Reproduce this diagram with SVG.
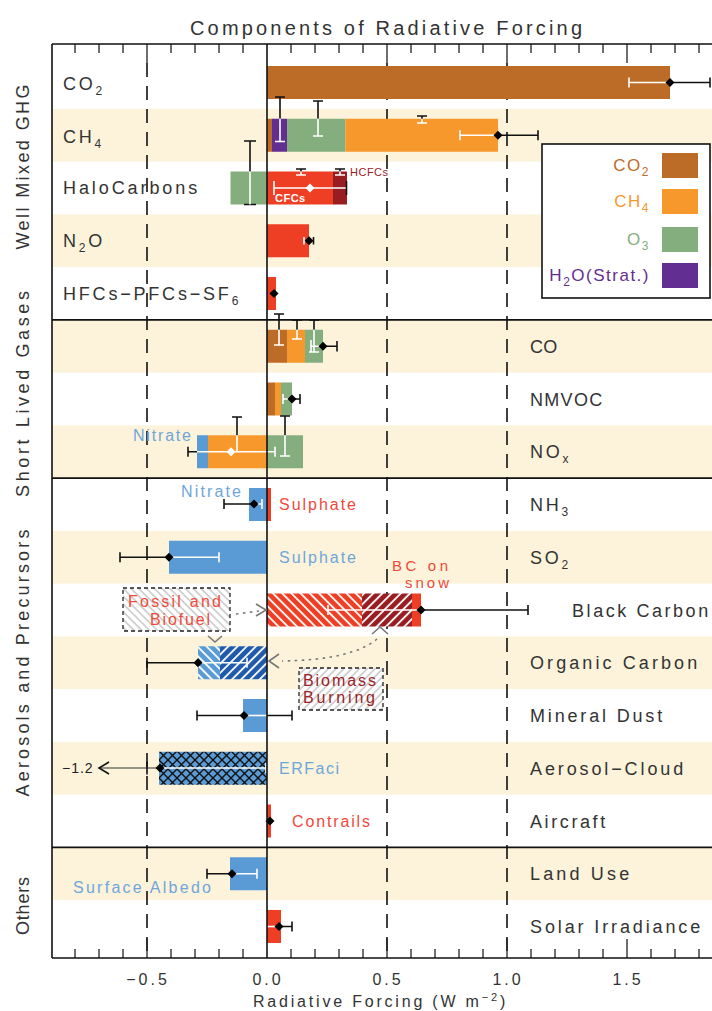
<svg xmlns="http://www.w3.org/2000/svg" width="712" height="1011" viewBox="0 0 712 1011">
<defs>
<style>
text{font-family:"Liberation Sans","DejaVu Sans",Arial,sans-serif;fill:#333}
.title{font-size:20px}
.lab{font-size:18px;letter-spacing:2.8px}
.sec{font-size:18px;text-anchor:middle}
.clab{font-size:16px;letter-spacing:2px}
.leg{font-size:17px;letter-spacing:1.5px;text-anchor:end}
.tick{font-size:16px;letter-spacing:3px;text-anchor:middle}
.band{fill:#FCF3DA}
.frame{stroke:#111;stroke-width:1.6;fill:none}
.tk{stroke:#222;stroke-width:1.3;fill:none}
.dash{stroke:#111;stroke-width:1.6;fill:none;stroke-dasharray:14,9}
.blk{stroke:#111;stroke-width:1.6;fill:none}
.wht{stroke:#fff;stroke-width:1.6;fill:none}
.arr{stroke:#777;stroke-width:1.6;fill:none}
.dot{stroke:#777;stroke-width:1.6;fill:none;stroke-dasharray:2.5,4.5}
.brown{fill:#BD6C28}
.orange{fill:#F7982C}
.green{fill:#85AE7F}
.purple{fill:#622E90}
.red{fill:#EE3F24}
.dred{fill:#981D22}
.blue{fill:#5B9BD5}
.tblue{fill:#6FA6DA}
.tred{fill:#F0493A}
.tdred{fill:#9B2226}
.box{stroke:#222;stroke-width:1.3;stroke-dasharray:4,3}
</style>
<path id="dm" d="M0,-4.5 L4.5,0 L0,4.5 L-4.5,0Z" fill="#000"/>
<path id="wdm" d="M0,-4.5 L4.5,0 L0,4.5 L-4.5,0Z" fill="#fff"/>
<pattern id="hRed" patternUnits="userSpaceOnUse" width="6.5" height="10" patternTransform="rotate(-45)">
<rect width="6.5" height="10" fill="#EE3F24"/><line x1="1" y1="0" x2="1" y2="10" stroke="#fff" stroke-width="1.8"/>
</pattern>
<pattern id="hDRed" patternUnits="userSpaceOnUse" width="6.5" height="10" patternTransform="rotate(45)">
<rect width="6.5" height="10" fill="#981D22"/><line x1="1" y1="0" x2="1" y2="10" stroke="#fff" stroke-width="1.8"/>
</pattern>
<pattern id="hLBlue" patternUnits="userSpaceOnUse" width="6.5" height="10" patternTransform="rotate(-45)">
<rect width="6.5" height="10" fill="#5B9BD5"/><line x1="1" y1="0" x2="1" y2="10" stroke="#fff" stroke-width="1.8"/>
</pattern>
<pattern id="hDBlue" patternUnits="userSpaceOnUse" width="6.5" height="10" patternTransform="rotate(45)">
<rect width="6.5" height="10" fill="#1F5AAB"/><line x1="1" y1="0" x2="1" y2="10" stroke="#fff" stroke-width="1.8"/>
</pattern>
<pattern id="gBack" patternUnits="userSpaceOnUse" width="5.5" height="10" patternTransform="rotate(-45)">
<rect width="5.5" height="10" fill="#fff"/><line x1="1" y1="0" x2="1" y2="10" stroke="#aaa" stroke-width="1"/>
</pattern>
<pattern id="gFwd" patternUnits="userSpaceOnUse" width="5.5" height="10" patternTransform="rotate(45)">
<rect width="5.5" height="10" fill="#fff"/><line x1="1" y1="0" x2="1" y2="10" stroke="#aaa" stroke-width="1"/>
</pattern>
<pattern id="xAC" patternUnits="userSpaceOnUse" width="9" height="9" x="159" y="751">
<rect width="9" height="9" fill="#5B9BD5"/><path d="M0,0 L9,9 M9,0 L0,9" stroke="#111" stroke-width="1.4"/>
</pattern>
</defs>

<rect width="712" height="1011" fill="#fff"/>

<g id="bands">
<rect class="band" x="52" y="108.9" width="660" height="52.75"/>
<rect class="band" x="52" y="214.4" width="660" height="52.75"/>
<rect class="band" x="52" y="319.9" width="660" height="52.75"/>
<rect class="band" x="52" y="425.4" width="660" height="52.75"/>
<rect class="band" x="52" y="530.9" width="660" height="52.75"/>
<rect class="band" x="52" y="636.4" width="660" height="52.75"/>
<rect class="band" x="52" y="741.9" width="660" height="52.75"/>
<rect class="band" x="52" y="847.4" width="660" height="52.75"/>
</g>

<text class="title" x="190" y="35" textLength="392">Components of Radiative Forcing</text>

<g id="axes">
<path class="dash" d="M147,63 V958 M387,63 V958 M507,63 V958"/>
<path class="tk" d="M75,44v9 M99,44v9 M123,44v9 M171,44v9 M195,44v9 M219,44v9 M243,44v9 M291,44v9 M315,44v9 M339,44v9 M363,44v9 M411,44v9 M435,44v9 M459,44v9 M483,44v9 M531,44v9 M555,44v9 M579,44v9 M603,44v9 M651,44v9 M675,44v9 M699,44v9 M147,44v19 M387,44v19 M507,44v19 M627,44v19"/>
<path class="tk" d="M75,958v-9 M99,958v-9 M123,958v-9 M171,958v-9 M195,958v-9 M219,958v-9 M243,958v-9 M291,958v-9 M315,958v-9 M339,958v-9 M363,958v-9 M411,958v-9 M435,958v-9 M459,958v-9 M483,958v-9 M531,958v-9 M555,958v-9 M579,958v-9 M603,958v-9 M651,958v-9 M675,958v-9 M699,958v-9 M147,958v-19 M387,958v-19 M507,958v-19 M627,958v-19"/>
<path class="frame" d="M52,44 H712 M52,958 H712 M52,44 V958 M52,319.9 H712 M52,478.1 H712 M52,847.4 H712"/>
<text class="tick" x="148" y="985">−0.5</text>
<text class="tick" x="268" y="985">0.0</text>
<text class="tick" x="388" y="985">0.5</text>
<text class="tick" x="508" y="985">1.0</text>
<text class="tick" x="628" y="985">1.5</text>
<text x="253" y="1007" style="font-size:16px;letter-spacing:2.8px">Radiative Forcing (W m<tspan dy="-6" style="font-size:11px">−2</tspan><tspan dy="6">)</tspan></text>
</g>

<g id="section-labels">
<text class="sec" transform="translate(29,167) rotate(-90)" textLength="165">Well Mixed GHG</text>
<text class="sec" transform="translate(29,394) rotate(-90)" textLength="206">Short Lived Gases</text>
<text class="sec" transform="translate(29,663) rotate(-90)" textLength="267">Aerosols and Precursors</text>
<text class="sec" transform="translate(29,906) rotate(-90)" textLength="58">Others</text>
</g>

<g id="row-co2">
<text class="lab" x="63" y="90">CO<tspan dy="5" style="font-size:12px">2</tspan></text>
<rect class="brown" x="267" y="66" width="403" height="33"/>
<path class="wht" d="M629,82.5 H670 M629,77.5 V87.5"/>
<path class="blk" d="M670,82.5 H710 M710,77.5 V87.5"/>
<use href="#dm" x="670" y="82.5"/>
</g>

<g id="row-ch4">
<text class="lab" x="63" y="143">CH<tspan dy="5" style="font-size:12px">4</tspan></text>
<rect class="brown" x="267" y="118.75" width="5" height="33"/>
<rect class="purple" x="272" y="118.75" width="15" height="33"/>
<rect class="green" x="287" y="118.75" width="58.5" height="33"/>
<rect class="orange" x="345.5" y="118.75" width="152.5" height="33"/>
<path class="blk" d="M280,97 V118.75 M275,97 H285 M318,101 V118.75 M313,101 H323 M417,116 H427 M422,116 V118.75"/>
<path class="wht" d="M280,118.75 V141.5 M275,141.5 H285 M318,118.75 V136 M313,136 H323 M422,118.75 V123 M417,123 H427"/>
<path class="wht" d="M460,135.25 H498 M460,130.25 V140.25"/>
<path class="blk" d="M498,135.25 H538 M538,130.25 V140.25"/>
<use href="#dm" x="498" y="135.25"/>
</g>

<g id="row-halocarbons">
<text class="lab" x="63" y="194" textLength="137">HaloCarbons</text>
<rect class="green" x="230.5" y="171.5" width="36.5" height="33"/>
<rect class="red" x="267" y="171.5" width="66" height="33"/>
<rect class="dred" x="333" y="171.5" width="14" height="33"/>
<path class="blk" d="M250,141 V171.5 M244,141 H256 M244,204.5 H256"/>
<path class="wht" d="M250,171.5 V204.5"/>
<path class="blk" d="M296,169 H306 M301,169 V171.5 M335,169 H345 M340,169 V171.5"/>
<path class="wht" d="M301,171.5 V175 M296,175 H306 M340,171.5 V175 M335,175 H345"/>
<path class="wht" d="M274,188 H346.5 M274,181 V195"/>
<path class="blk" d="M346.5,181 V195"/>
<use href="#wdm" x="310" y="188"/>
<text x="275" y="202" style="font-size:11px;font-weight:bold;fill:#fff;letter-spacing:0.5px">CFCs</text>
<text x="350" y="176" style="font-size:11px;fill:#9B2226;letter-spacing:0.5px">HCFCs</text>
</g>

<g id="row-n2o">
<text class="lab" x="63" y="247">N<tspan dy="5" style="font-size:12px">2</tspan><tspan dy="-5">O</tspan></text>
<rect class="red" x="267" y="224.25" width="42" height="33"/>
<path class="wht" d="M304,240.75 H309 M304,237 V244.5"/>
<path class="blk" d="M309,240.75 H313.5 M313.5,237 V244.5"/>
<use href="#dm" x="309" y="240.75"/>
</g>

<g id="row-hfcs">
<text class="lab" x="63" y="300">HFCs−PFCs−SF<tspan dy="5" style="font-size:12px">6</tspan></text>
<rect class="red" x="267" y="277" width="9" height="33"/>
<path class="blk" d="M271,293.5 H277"/>
<use href="#dm" x="274" y="293.5"/>
</g>

<g id="row-co">
<text class="lab" x="530" y="352.5" textLength="30">CO</text>
<rect class="brown" x="267" y="329.75" width="20" height="33"/>
<rect class="orange" x="287" y="329.75" width="18" height="33"/>
<rect class="green" x="305" y="329.75" width="18" height="33"/>
<path class="blk" d="M279,314 V329.75 M274,314 H284 M297,320 V329.75 M292,320 H302 M314,320 V329.75 M309,320 H319"/>
<path class="wht" d="M279,329.75 V345 M274,345 H284 M297,329.75 V339 M292,339 H302 M314,329.75 V352 M309,352 H319 M311,346.25 H323 M311,340 V352"/>
<path class="blk" d="M323,346.25 H337 M337,341 V351.5"/>
<use href="#dm" x="323" y="346.25"/>
</g>

<g id="row-nmvoc">
<text class="lab" x="530" y="405.5" textLength="75">NMVOC</text>
<rect class="brown" x="267" y="382.5" width="8" height="33"/>
<rect class="orange" x="275" y="382.5" width="6" height="33"/>
<rect class="green" x="281" y="382.5" width="11" height="33"/>
<path class="wht" d="M283,399 H292 M283,394 V404"/>
<path class="blk" d="M292,399 H300 M300,394 V404"/>
<use href="#dm" x="292" y="399"/>
</g>

<g id="row-nox">
<text class="lab" x="530" y="458">NO<tspan dy="5" style="font-size:12px">x</tspan></text>
<rect class="blue" x="197" y="435.25" width="11" height="33"/>
<rect class="orange" x="208" y="435.25" width="59" height="33"/>
<rect class="green" x="267" y="435.25" width="36" height="33"/>
<path class="blk" d="M237,417 V435.25 M232,417 H242 M285,416 V435.25 M280,416 H290"/>
<path class="wht" d="M237,435.25 V451.75 M285,435.25 V456 M280,456 H290"/>
<path class="blk" d="M188,451.75 H197 M188,446.75 V456.75"/>
<path class="wht" d="M197,451.75 H275 M275,446.75 V456.75"/>
<use href="#wdm" x="231" y="451.75"/>
<text class="clab tblue" x="133" y="441" textLength="60">Nitrate</text>
</g>

<g id="row-nh3">
<text class="lab" x="530" y="511">NH<tspan dy="5" style="font-size:12px">3</tspan></text>
<rect class="blue" x="249" y="488" width="18" height="33"/>
<rect class="red" x="267" y="488" width="4" height="33"/>
<path class="blk" d="M224,504 H254 M224,499 V509"/>
<path class="wht" d="M254,504 H262 M262,499 V509"/>
<use href="#dm" x="254" y="504"/>
<text class="clab tblue" x="181" y="497" textLength="62">Nitrate</text>
<text class="clab tred" x="279" y="510" textLength="79">Sulphate</text>
</g>

<g id="row-so2">
<text class="lab" x="530" y="564">SO<tspan dy="5" style="font-size:12px">2</tspan></text>
<rect class="blue" x="169" y="540.75" width="98" height="33"/>
<path class="blk" d="M120,557.25 H169 M120,552.25 V562.25"/>
<path class="wht" d="M169,557.25 H219 M219,552.25 V562.25"/>
<use href="#dm" x="169" y="557.25"/>
<text class="clab tblue" x="279" y="563" textLength="79">Sulphate</text>
</g>

<g id="row-black-carbon">
<text class="lab" x="572" y="616.5" textLength="139">Black Carbon</text>
<rect x="267" y="593.5" width="95" height="33" fill="url(#hRed)"/>
<rect x="362" y="593.5" width="50" height="33" fill="url(#hDRed)"/>
<rect class="red" x="412" y="593.5" width="9" height="33"/>
<path class="wht" d="M328,610 H421 M328,605 V615"/>
<path class="blk" d="M421,610 H528 M528,605 V615"/>
<use href="#dm" x="421" y="610"/>
<text class="tred" x="392" y="570.5" textLength="56" style="font-size:15px">BC on</text>
<text class="tred" x="405" y="588" textLength="44" style="font-size:15px">snow</text>
</g>

<g id="fossil-box">
<rect class="box" x="123" y="588" width="107" height="43" fill="url(#gBack)"/>
<text class="clab tred" x="128" y="607" textLength="95">Fossil and</text>
<text class="clab tred" x="150" y="625" textLength="62">Biofuel</text>
</g>

<g id="biomass-box">
<rect class="box" x="299" y="668" width="84" height="42" fill="url(#gFwd)"/>
<text class="clab tdred" x="303" y="686" textLength="75">Biomass</text>
<text class="clab tdred" x="303" y="703" textLength="74">Burning</text>
</g>

<g id="row-organic-carbon">
<text class="lab" x="530" y="669" textLength="170">Organic Carbon</text>
<rect x="198" y="646.25" width="22" height="33" fill="url(#hLBlue)"/>
<rect x="220" y="646.25" width="47" height="33" fill="url(#hDBlue)"/>
<path class="blk" d="M147,662.75 H198 M147,657.75 V667.75"/>
<path class="wht" d="M198,662.75 H247 M247,657.75 V667.75"/>
<use href="#dm" x="198" y="662.75"/>
</g>

<g id="row-mineral-dust">
<text class="lab" x="530" y="722" textLength="135">Mineral Dust</text>
<rect class="blue" x="243" y="699" width="24" height="33"/>
<path class="blk" d="M197,715.5 H243 M197,710.5 V720.5 M267,715.5 H292 M292,710.5 V720.5"/>
<path class="wht" d="M243,715.5 H267"/>
<use href="#dm" x="244" y="715.5"/>
</g>

<g id="row-aerosol-cloud">
<text class="lab" x="530" y="774.5" textLength="156">Aerosol−Cloud</text>
<rect x="159" y="751.75" width="108" height="33" fill="url(#xAC)"/>
<path d="M100,768 H160" stroke="#333" stroke-width="1.2" fill="none"/>
<path class="blk" d="M109,762 L99,768 L109,774 M147,761.5 V774.5"/>
<path class="wht" d="M160,768 H266 M266,763 V773"/>
<use href="#dm" x="160" y="768"/>
<text x="62" y="773" style="font-size:14px;letter-spacing:1px;fill:#222">−1.2</text>
<text class="clab tblue" x="279" y="774" textLength="62">ERFaci</text>
</g>

<g id="row-aircraft">
<text class="lab" x="530" y="827.5" textLength="78">Aircraft</text>
<rect class="red" x="267" y="804.5" width="4" height="33"/>
<use href="#dm" x="270" y="821"/>
<text class="clab tred" x="292" y="827" textLength="80">Contrails</text>
</g>

<g id="row-land-use">
<text class="lab" x="530" y="880" textLength="102">Land Use</text>
<rect class="blue" x="230" y="857.25" width="37" height="33"/>
<path class="blk" d="M207,873.75 H232 M207,868.75 V878.75"/>
<path class="wht" d="M232,873.75 H257 M257,868.75 V878.75"/>
<use href="#dm" x="232" y="873.75"/>
<text class="clab tblue" x="73" y="893" textLength="140">Surface Albedo</text>
</g>

<g id="row-solar">
<text class="lab" x="530" y="933" textLength="173">Solar Irradiance</text>
<rect class="red" x="267" y="910" width="14" height="33"/>
<path class="wht" d="M267,926.5 H279"/>
<path class="blk" d="M279,926.5 H292 M292,921.5 V931.5"/>
<use href="#dm" x="279" y="926.5"/>
</g>

<g id="zero-line">
<path class="frame" d="M267,44 V958"/>
</g>

<g id="connectors">
<path class="dot" d="M236,614 L259,611"/>
<path class="arr" d="M256,604 L266,610 L256,616"/>
<path class="arr" d="M208,636 L215,642 L222,636"/>
<path class="dot" d="M377,639 Q352,660 282,661"/>
<path class="arr" d="M372,634 L380,627 L388,634"/>
<path class="arr" d="M279,654 L269,661 L279,668"/>
</g>

<g id="legend">
<rect x="542" y="144" width="168" height="154" fill="#fff" stroke="#111" stroke-width="1.6"/>
<rect class="brown" x="662" y="153" width="36" height="25"/>
<rect class="orange" x="662" y="189" width="36" height="25"/>
<rect class="green" x="662" y="227" width="36" height="25"/>
<rect class="purple" x="662" y="263" width="36" height="25"/>
<text class="leg" x="650" y="171" style="fill:#BD6C28">CO<tspan dy="5" style="font-size:12px">2</tspan></text>
<text class="leg" x="650" y="207" style="fill:#F7982C">CH<tspan dy="5" style="font-size:12px">4</tspan></text>
<text class="leg" x="650" y="245" style="fill:#85AE7F">O<tspan dy="5" style="font-size:12px">3</tspan></text>
<text class="leg" x="650" y="281" style="fill:#622E90">H<tspan dy="5" style="font-size:12px">2</tspan><tspan dy="-5">O(Strat.)</tspan></text>
</g>
</svg>
